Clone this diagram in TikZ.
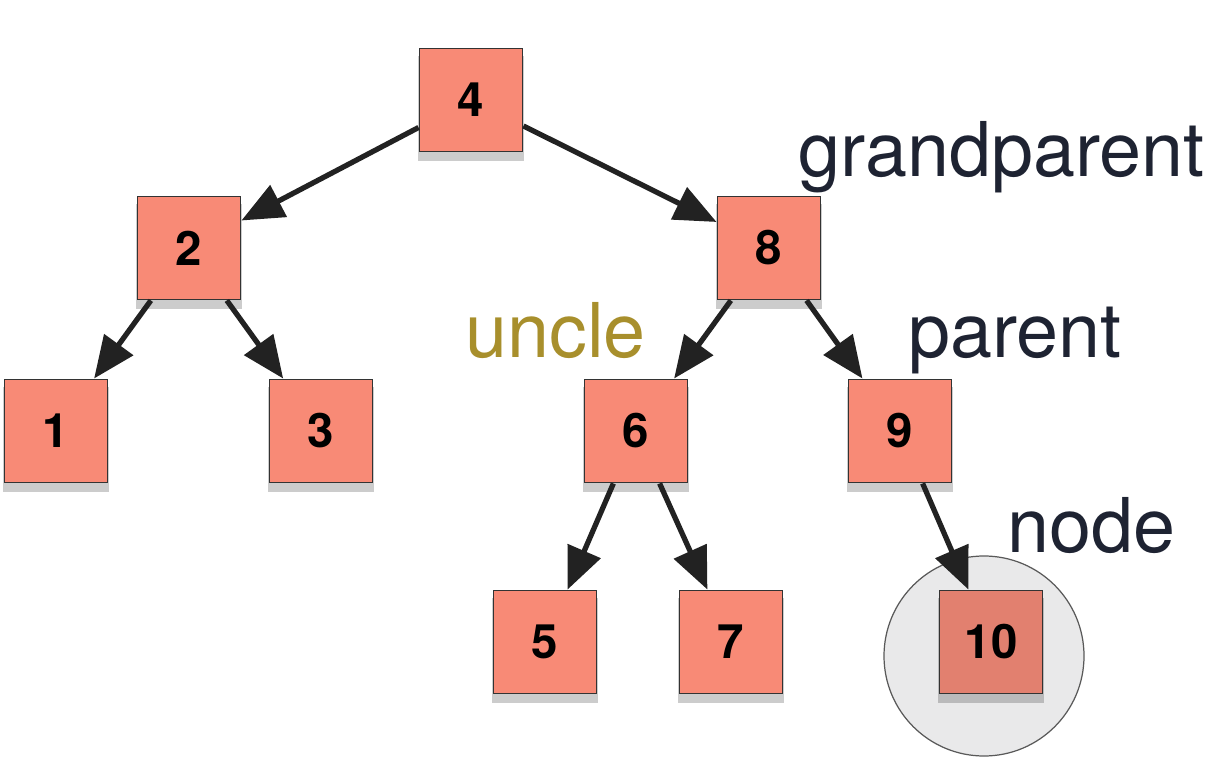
\documentclass[tikz,border=0pt]{standalone}
\usepackage{fontspec}
\setmainfont{TeX Gyre Heros}
\usetikzlibrary{arrows.meta,shadows}
\definecolor{salmon}{HTML}{F88A76}
\definecolor{salmondark}{HTML}{E2806F}
\definecolor{ringgrey}{HTML}{E9E9EA}
\definecolor{navy}{HTML}{1E2332}
\definecolor{uncle}{HTML}{A88F2C}
\definecolor{arrowgrey}{HTML}{222222}

\begin{document}
\begin{tikzpicture}
        [x=0.02cm,y=-0.02cm,
         >={Triangle[length=0.84cm,width=0.7cm]}]
            \tikzstyle{box}=[rectangle, draw=black!80, line width=1.1pt,
        fill=salmon, minimum size=2.06cm, inner sep=0pt,
        font=\fontsize{27}{27}\bfseries\selectfont,
        drop shadow={shadow xshift=0pt, shadow yshift=-5pt, shadow scale=1.02, opacity=0.2, fill=black}]
            \tikzstyle{tag}=[anchor=base west, inner sep=0pt, text=navy,
        font=\fontsize{43}{43}\selectfont]
        \useasboundingbox (0,0) rectangle (1231,773);
        %-----ring
         \draw[fill=ringgrey, draw=gray!70!black, line width=0.7pt] (984,656) circle (100);
        %-----boxes
         \node[box]  (n4) at (471,100) {4};
         \node[box]  (n2) at (189,248) {2};
         \node[box]  (n8) at (769,248) {8};
         \node[box]  (n1) at (56,431) {1};
         \node[box]  (n3) at (321,431) {3};
         \node[box]  (n6) at (636,431) {6};
         \node[box]  (n9) at (900,431) {9};
         \node[box]  (n5) at (545,642) {5};
         \node[box]  (n7) at (731,642) {7};
         \node[box, fill=salmondark]  (n10) at (991,642) {10};
        %-----tags
         \node[tag]  (grandparent) at (798,177) {grandparent};
         \node[tag]  (parent) at (908,358) {parent};
         \node[tag, text=uncle]  (uncle) at (465,358) {uncle};
         \node[tag]  (node) at (1007,552) {node};

         \foreach \from/\to in {n4/n2, n4/n8, n2/n1, n2/n3, n8/n6, n8/n9, n6/n5, n6/n7, n9/n10}
         \draw[->, line width=3pt, color=arrowgrey] (\from) -- (\to);

        \end{tikzpicture}
\end{document}
